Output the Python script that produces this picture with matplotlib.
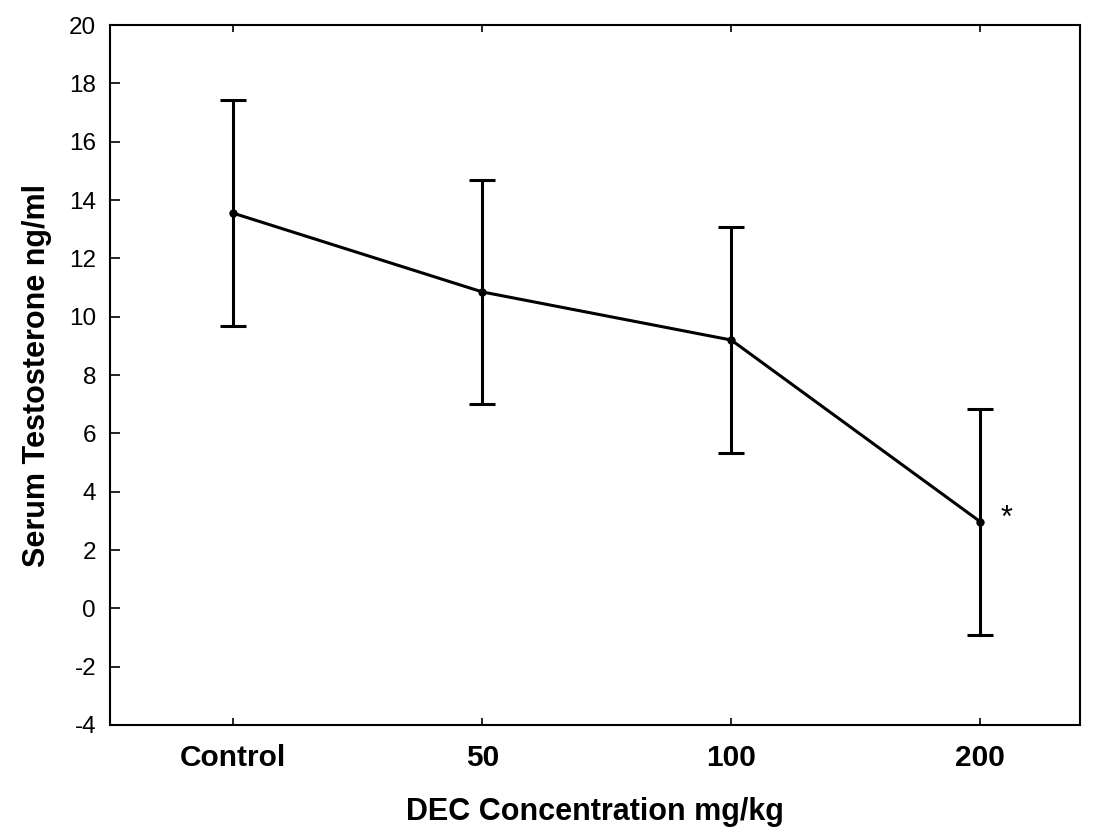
import numpy as np
import matplotlib.pyplot as plt

plt.rcParams['font.family'] = ['Liberation Sans', 'DejaVu Sans']
plt.rcParams['axes.unicode_minus'] = False

# data
groups = ['Control', '50', '100', '200']
means = [13.55, 10.85, 9.2, 2.97]
errors = [3.87, 3.84, 3.87, 3.87]

fig = plt.figure(figsize=(10.93, 8.36), dpi=100)
ax = fig.add_axes([0.1006, 0.1328, 0.8874, 0.8372])

xpos = np.arange(len(groups))
ax.errorbar(xpos, means, yerr=errors, color='black', linewidth=2.2,
            elinewidth=2.2, capsize=9.5, capthick=2.2,
            marker='o', markersize=5)

# significance mark
ax.annotate('*', xy=(xpos[-1], means[-1]), xytext=(19, 2),
            textcoords='offset points', fontsize=22, ha='center', va='center')

ax.set_xlim(-0.495, 3.4)
ax.set_ylim(-4, 20)
ax.set_yticks(np.arange(-4, 21, 2))
ax.set_xticks(xpos)
ax.set_xticklabels(groups, fontsize=21.5, fontweight='bold')
ax.tick_params(axis='y', labelsize=17.5, direction='in', length=7, width=1.2, pad=10)
ax.tick_params(axis='x', direction='in', length=5, width=1.2, pad=14, top=True)

for s in ax.spines.values():
    s.set_linewidth(1.5)

ax.set_xlabel('DEC Concentration mg/kg', fontsize=22, fontweight='bold', labelpad=18)
ax.set_ylabel('Serum Testosterone ng/ml', fontsize=22, fontweight='bold', labelpad=12)

fig.savefig('out.png', dpi=100)
